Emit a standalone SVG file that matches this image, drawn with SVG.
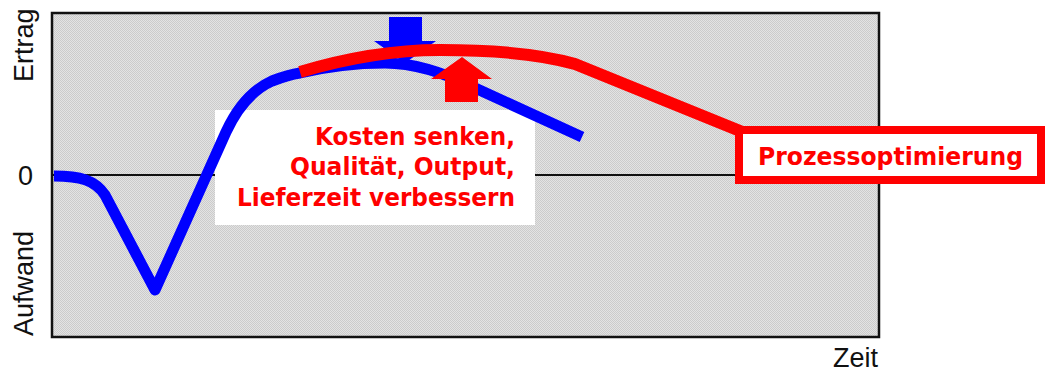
<svg xmlns="http://www.w3.org/2000/svg" width="1045" height="371" viewBox="0 0 1045 371">
<style>
.axis{font-family:"Liberation Sans",Arial,sans-serif;font-size:27px;fill:#111}
.lbl{font-family:"DejaVu Sans",Verdana,sans-serif;font-weight:bold;font-size:25px;fill:#ff0000}
.blue{fill:none;stroke:#0000ff;stroke-width:11;stroke-linejoin:round;stroke-linecap:butt}
.red{fill:none;stroke:#ff0000;stroke-width:12;stroke-linejoin:round;stroke-linecap:butt}
</style>
<defs>
<pattern id="dots" width="2" height="2" patternUnits="userSpaceOnUse">
<rect width="2" height="2" fill="#e3e3e3"/>
<rect width="1" height="1" fill="#cbcbcb"/>
<rect x="1" y="1" width="1" height="1" fill="#cbcbcb"/>
</pattern>
</defs>
<rect width="1045" height="371" fill="#ffffff"/>
<g id="plot">
<rect x="52" y="13" width="827" height="324" fill="url(#dots)" stroke="#111" stroke-width="2.5"/>
<line x1="52" y1="175" x2="879" y2="175" stroke="#111" stroke-width="2"/>
</g>
<g id="axis-labels">
<text class="axis" transform="translate(33,82) rotate(-90)">Ertrag</text>
<text class="axis" x="18" y="185">0</text>
<text class="axis" transform="translate(33,336) rotate(-90)">Aufwand</text>
<text class="axis" x="833" y="367">Zeit</text>
</g>
<g id="note-box">
<rect x="215" y="110" width="320" height="115" fill="#ffffff"/>
<text class="lbl" x="315" y="145" textLength="200" lengthAdjust="spacingAndGlyphs">Kosten senken,</text>
<text class="lbl" x="290" y="175" textLength="225" lengthAdjust="spacingAndGlyphs">Qualität, Output,</text>
<text class="lbl" x="237" y="206" textLength="278" lengthAdjust="spacingAndGlyphs">Lieferzeit verbessern</text>
</g>
<g id="connectors">
<path class="blue" d="M54,176 C80,176 95,180 105,195 L155,290 L226,132 C238,106 252,90 272,81 C285,76 293,74 300,73 C325,67 355,63 385,63 C415,63 445,73 475,88 L582,137"/>
<polygon id="arrow-down" fill="#0000ff" points="389,17 422,17 422,41 436,41 405,63 374,41 389,41"/>
<polygon id="arrow-up" fill="#ff0000" points="445,102 478,102 478,79 492,79 462,57 431,79 445,79"/>
<path class="red" d="M300,72 C340,60 390,50 440,50 C490,50 540,54 575,64 L745,133"/>
</g>
<g id="process-box">
<rect x="739" y="130" width="302" height="50" fill="#ffffff" stroke="#ff0000" stroke-width="8"/>
<text class="lbl" x="758" y="165" textLength="265" lengthAdjust="spacingAndGlyphs">Prozessoptimierung</text>
</g>
</svg>
